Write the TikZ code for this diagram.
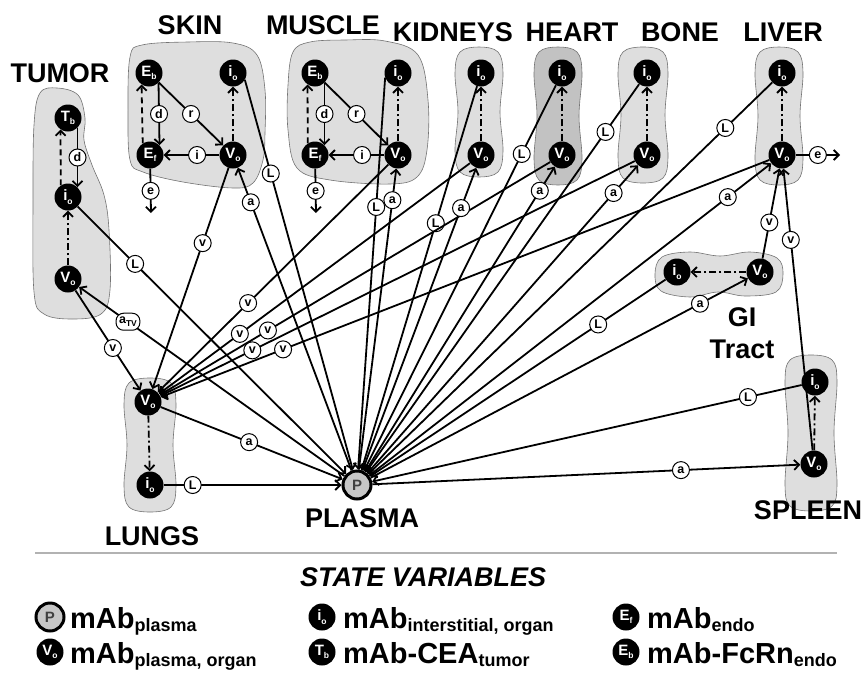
\documentclass[tikz,border=0pt]{standalone}
\usepackage{fontspec}
\setmainfont{Liberation Sans}
\usetikzlibrary{arrows.meta}
\definecolor{boxfill}{gray}{0.87}
\definecolor{heartfill}{gray}{0.76}
\definecolor{plasfill}{gray}{0.78}
\definecolor{boxline}{gray}{0.45}
\newcommand{\stsub}[1]{\raisebox{-0.22em}{\fontsize{8.5}{8.5}\selectfont #1}}
\newcommand{\lgsub}[1]{\raisebox{-3.5pt}{\fontsize{18}{18}\selectfont #1}}
\newcommand{\vpeanut}[5]{%
  \draw[grp,fill=#5] plot[smooth cycle,tension=0.6] coordinates {(#1,#2) (#1+#4-5,#2+5) (#1+#4,#2+26) (#1+#4-3,{(#2+#3)/2}) (#1+#4,#3-26) (#1+#4-5,#3-5) (#1,#3) (#1-#4+5,#3-5) (#1-#4,#3-26) (#1-#4+3,{(#2+#3)/2}) (#1-#4,#2+26) (#1-#4+5,#2+5)};}
\tikzset{
  grp/.style={draw=boxline, line width=0.6pt},
  stn/.style={circle, fill=black, minimum size=27pt, inner sep=0pt, text=white, font=\bfseries\fontsize{15}{15}\selectfont},
  plas/.style={circle, fill=plasfill, draw=black, line width=3pt, minimum size=28pt, inner sep=0pt, text=black!75, font=\bfseries\fontsize{15}{15}\selectfont},
  lab/.style={circle, draw=black, fill=white, line width=1pt, minimum size=17pt, inner sep=0pt, font=\bfseries\fontsize{12.5}{12.5}\selectfont},
  labr/.style={rounded corners=7.5pt, draw=black, fill=white, line width=1pt, minimum height=17pt, inner xsep=3pt, inner ysep=0pt, font=\bfseries\fontsize{12.5}{12.5}\selectfont},
  conn/.style={line width=1.8pt, -{Straight Barb[length=5pt,width=10pt]}},
  dd/.style={conn, dash pattern=on 7pt off 3pt on 2pt off 3pt},
  dsh/.style={conn, dash pattern=on 6pt off 4pt},
  ttl/.style={font=\bfseries\fontsize{27}{32}\selectfont, inner sep=0pt},
  lgt/.style={font=\bfseries\fontsize{29}{30}\selectfont, inner sep=0pt, anchor=base west},
}
\begin{document}
\begin{tikzpicture}[x=1pt,y=-1pt]
\useasboundingbox (0,0) rectangle (862,672);
% ---- group boxes
\draw[grp,fill=boxfill] plot[smooth cycle,tension=0.6] coordinates {(40,93) (57,88) (78,95) (85,118) (84,140) (92,165) (104,195) (109,230) (110,290) (101,314) (72,319) (44,314) (34,292) (33,200) (34,125)};
\draw[grp,fill=boxfill] plot[smooth cycle,tension=0.6] coordinates {(130,57) (142,45) (188,42) (233,43) (257,55) (265,90) (265,133) (263,160) (253,183) (233,188) (183,182) (143,172) (130,160) (128,110)};
\draw[grp,fill=boxfill] plot[smooth cycle,tension=0.6] coordinates {(293,52) (310,42) (345,40) (385,41) (418,55) (428,100) (427,150) (417,177) (390,184) (330,180) (297,168) (288,130) (288,85)};
\vpeanut{479}{47}{177}{24}{boxfill}
\vpeanut{558}{47}{185}{24}{heartfill}
\vpeanut{643}{47}{183}{25}{boxfill}
\vpeanut{779}{47}{185}{24}{boxfill}
\vpeanut{150}{378}{512}{26}{boxfill}
\vpeanut{811}{355}{511}{26}{boxfill}
\draw[grp,fill=boxfill] plot[smooth cycle,tension=0.6] coordinates {(662,257) (690,252) (720,256) (750,252) (777,258) (783,274) (776,292) (745,296) (718,292) (690,297) (661,291) (655,274)};
% ---- titles
\node[ttl] (tTum) at (60,73) {TUMOR};
\node[ttl] (tSkin) at (190,25) {SKIN};
\node[ttl] (tMus) at (323,25) {MUSCLE};
\node[ttl] (tKid) at (453,32) {KIDNEYS};
\node[ttl] (tHea) at (572,32) {HEART};
\node[ttl] (tBon) at (680,32) {BONE};
\node[ttl] (tLiv) at (783,32) {LIVER};
\node[ttl,align=center] (tGI) at (742,333) {GI\\Tract};
\node[ttl] (tSpl) at (808,510) {SPLEEN};
\node[ttl] (tPla) at (362,518) {PLASMA};
\node[ttl] (tLun) at (152,536) {LUNGS};
% ---- state nodes
\node[stn] (Tb) at (68,118) {T\stsub{b}};
\node[stn] (Ti) at (68,197) {i\stsub{o}};
\node[stn] (Tv) at (68,279) {V\stsub{o}};
\node[stn] (SEb) at (149,73) {E\stsub{b}};
\node[stn] (Si) at (233,73) {i\stsub{o}};
\node[stn] (SEf) at (150,155) {E\stsub{f}};
\node[stn] (Sv) at (233,155) {V\stsub{o}};
\node[stn] (MEb) at (315,73) {E\stsub{b}};
\node[stn] (Mi) at (398,73) {i\stsub{o}};
\node[stn] (MEf) at (315,155) {E\stsub{f}};
\node[stn] (Mv) at (398,155) {V\stsub{o}};
\node[stn] (Ki) at (481,73) {i\stsub{o}};
\node[stn] (Kv) at (481,155) {V\stsub{o}};
\node[stn] (Hi) at (562,73) {i\stsub{o}};
\node[stn] (Hv) at (562,155) {V\stsub{o}};
\node[stn] (Bi) at (647,73) {i\stsub{o}};
\node[stn] (Bv) at (647,155) {V\stsub{o}};
\node[stn] (Li) at (782,73) {i\stsub{o}};
\node[stn] (Lv) at (782,155) {V\stsub{o}};
\node[stn] (Gi) at (677,272) {i\stsub{o}};
\node[stn] (Gv) at (760,272) {V\stsub{o}};
\node[stn] (Pi) at (815,382) {i\stsub{o}};
\node[stn] (Pv) at (814,464) {V\stsub{o}};
\node[stn] (Lgv) at (148,402) {V\stsub{o}};
\node[stn] (Lgi) at (150,485) {i\stsub{o}};
\node[plas] (P) at (357,485) {P};
\coordinate (Se) at (151,213);
\coordinate (Me) at (316,213);
\coordinate (Le) at (840,155);
% ---- intra-organ
\draw[conn] (Tb.-46) -- node[lab]{d} (Ti.46);
\draw[dsh] (Ti.122.6) -- (Tb.237.4);
\draw[dd] (Tv) -- (Ti);
\draw[conn] (SEb.-46) -- node[lab]{d} (SEf.46);
\draw[dsh] (SEf.122.6) -- (SEb.237.4);
\draw[conn] (SEb) -- node[lab]{r} (Sv);
\draw[conn] (Sv) -- node[lab,pos=0.4]{i} (SEf);
\draw[conn] (SEf) -- node[lab,pos=0.5]{e} (Se);
\draw[dd] (Sv) -- (Si);
\draw[conn] (MEb.-46) -- node[lab]{d} (MEf.46);
\draw[dsh] (MEf.122.6) -- (MEb.237.4);
\draw[conn] (MEb) -- node[lab]{r} (Mv);
\draw[conn] (Mv) -- node[lab,pos=0.4]{i} (MEf);
\draw[conn] (MEf) -- node[lab,pos=0.5]{e} (Me);
\draw[dd] (Mv) -- (Mi);
\draw[dd] (Kv) -- (Ki);
\draw[dd] (Hv) -- (Hi);
\draw[dd] (Bv) -- (Bi);
\draw[dd] (Lv) -- (Li);
\draw[conn] (Lv) -- node[lab,pos=0.5]{e} (Le);
\draw[dd] (Gv) -- (Gi);
\draw[dd] (Pv) -- (Pi);
\draw[dd] (Lgv) -- (Lgi);
% ---- lymph (L) to plasma
\draw[conn] (Ti) -- node[lab,pos=0.214]{L} (P);
\draw[conn] (Si.-30) -- node[lab,pos=0.24]{L} (P);
\draw[conn] (Mi.200) -- node[lab,pos=0.33]{L} (P);
\draw[conn] (Ki) -- node[lab,pos=0.357]{L} (P);
\draw[conn] (Hi) -- node[lab,pos=0.178]{L} (P);
\draw[conn] (Bi) -- node[lab,pos=0.123]{L} (P);
\draw[conn] (Li) -- node[lab,pos=0.116]{L} (P);
\draw[conn] (Gi) -- node[lab,pos=0.228]{L} (P);
\draw[conn] (Pi) -- node[lab,pos=0.125]{L} (P);
\draw[conn] (Lgi) -- node[lab,pos=0.163]{L} (P);
% ---- venous (v) to lungs
\draw[conn] (Tv) -- node[lab,pos=0.575]{v} (Lgv);
\draw[conn] (Sv) -- node[lab,pos=0.34]{v} (Lgv);
\draw[conn] (Mv) -- node[lab,pos=0.608]{v} (Lgv);
\draw[conn] (Kv) -- node[lab,pos=0.74]{v} (Lgv);
\draw[conn] (Hv) -- node[lab,pos=0.723]{v} (Lgv);
\draw[conn] (Bv) -- node[lab,pos=0.806]{v} (Lgv);
\draw[conn] (Lv) -- node[lab,pos=0.799]{v} (Lgv);
\draw[conn] (Gv) -- node[lab,pos=0.40]{v} (Lv);
\draw[conn] (Pv) -- node[lab,pos=0.747]{v} (Lv);
% ---- arterial (a) from plasma
\draw[conn] (Lgv) -- node[lab,pos=0.486]{a} (P);
\draw[conn] (P) -- node[lab,pos=0.886]{a} (Sv);
\draw[conn] (P) -- node[lab,pos=0.895]{a} (Mv);
\draw[conn] (P) -- node[lab,pos=0.867]{a} (Kv);
\draw[conn] (P) -- node[lab,pos=0.921]{a} (Hv);
\draw[conn] (P) -- node[lab,pos=0.91]{a} (Bv);
\draw[conn] (P) -- node[lab,pos=0.892]{a} (Lv);
\draw[conn] (P) -- node[lab,pos=0.873]{a} (Gv);
\draw[conn] (P) -- node[lab,pos=0.721]{a} (Pv);
\draw[conn] (P) -- node[labr,pos=0.816]{a\stsub{TV}} (Tv);
% ---- legend
\draw[gray!60, line width=1.2pt] (35,553) -- (837,553);
\node[font=\bfseries\itshape\fontsize{27}{30}\selectfont, inner sep=0pt] (sv) at (423,577) {STATE VARIABLES};
\node[plas] (lgP) at (50,617) {P};
\node[lgt] (lgPt) at (70,628) {mAb\lgsub{plasma}};
\node[stn] (lgI) at (322,617) {i\stsub{o}};
\node[lgt] (lgIt) at (343,628) {mAb\lgsub{interstitial, organ}};
\node[stn] (lgE) at (626,617) {E\stsub{f}};
\node[lgt] (lgEt) at (647,628) {mAb\lgsub{endo}};
\node[stn] (lgV) at (50,652) {V\stsub{o}};
\node[lgt] (lgVt) at (70,663) {mAb\lgsub{plasma, organ}};
\node[stn] (lgT) at (322,652) {T\stsub{b}};
\node[lgt] (lgTt) at (343,663) {mAb-CEA\lgsub{tumor}};
\node[stn] (lgB) at (626,652) {E\stsub{b}};
\node[lgt] (lgBt) at (647,663) {mAb-FcRn\lgsub{endo}};
\end{tikzpicture}
\end{document}
